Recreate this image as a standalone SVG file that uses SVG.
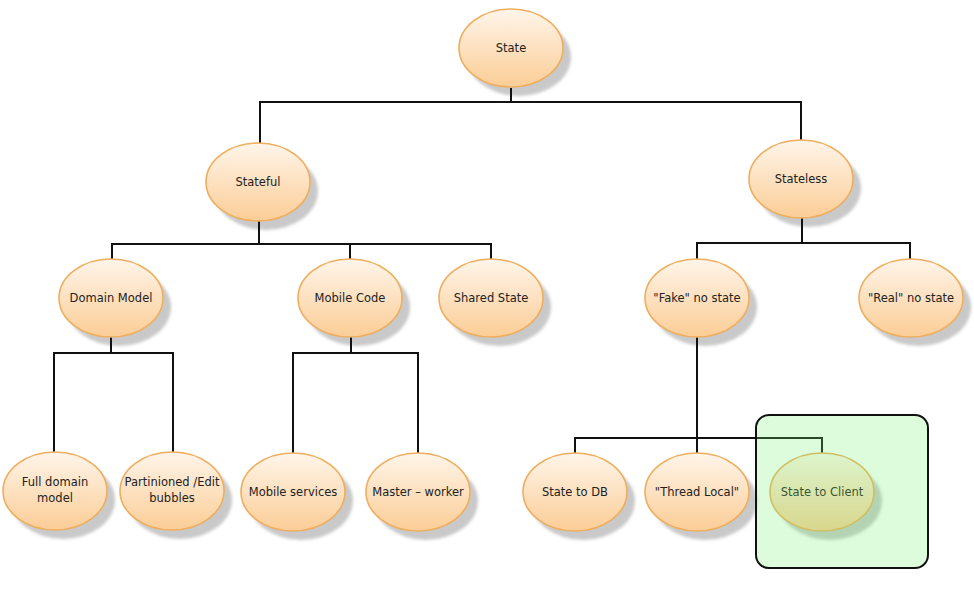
<svg xmlns="http://www.w3.org/2000/svg" width="974" height="594" viewBox="0 0 974 594">
<defs>
<linearGradient id="g" x1="0" y1="0" x2="0" y2="1">
<stop offset="0" stop-color="#fff5ea"/>
<stop offset="1" stop-color="#fbcd96"/>
</linearGradient>
<filter id="blur" x="-20%" y="-20%" width="140%" height="140%"><feGaussianBlur stdDeviation="1.5"/></filter>
<style>
.sh{fill:#c9c9c9;filter:url(#blur)}
.el{fill:url(#g);stroke:#eeae5e;stroke-width:1.6}
.t{font-family:"DejaVu Sans",sans-serif;font-size:11.5px;fill:#222;text-anchor:middle}
.c{fill:none;stroke:#111;stroke-width:2}
</style>
</defs>
<rect width="974" height="594" fill="#fff"/>
<g id="shadows">
<ellipse class="sh" cx="519" cy="57" rx="52" ry="39"/>
<ellipse class="sh" cx="266" cy="191" rx="52" ry="39"/>
<ellipse class="sh" cx="809" cy="188" rx="52" ry="39"/>
<ellipse class="sh" cx="119" cy="307" rx="52" ry="39"/>
<ellipse class="sh" cx="358" cy="307" rx="52" ry="39"/>
<ellipse class="sh" cx="499" cy="307" rx="52" ry="39"/>
<ellipse class="sh" cx="705" cy="307" rx="52" ry="39"/>
<ellipse class="sh" cx="919" cy="307" rx="52" ry="39"/>
<ellipse class="sh" cx="63" cy="500" rx="52" ry="39"/>
<ellipse class="sh" cx="180" cy="500" rx="52" ry="39"/>
<ellipse class="sh" cx="301" cy="501" rx="52" ry="39"/>
<ellipse class="sh" cx="426" cy="501" rx="52" ry="39"/>
<ellipse class="sh" cx="583" cy="501" rx="52" ry="39"/>
<ellipse class="sh" cx="705" cy="501" rx="52" ry="39"/>
<ellipse class="sh" cx="830" cy="501" rx="52" ry="39"/>
</g>
<g id="connectors">
<path class="c" d="M511 88 V102 M260 143 V102 H801 V140"/>
<path class="c" d="M259 221 V244 M112 259 V244 H491 V259 M350 244 V259"/>
<path class="c" d="M802 218 V243 M697 259 V243 H910 V259"/>
<path class="c" d="M111 337 V353 M54 452 V353 H173 V452"/>
<path class="c" d="M351 337 V353 M293 453 V353 H418 V453"/>
<path class="c" d="M697 337 V453 M575 453 V438 H822 V453"/>
</g>
<g id="state"><ellipse class="el" cx="511" cy="48" rx="52" ry="39"/><text class="t" x="511" y="52">State</text></g>
<g id="stateful"><ellipse class="el" cx="258" cy="182" rx="52" ry="39"/><text class="t" x="258" y="186">Stateful</text></g>
<g id="stateless"><ellipse class="el" cx="801" cy="179" rx="52" ry="39"/><text class="t" x="801" y="183">Stateless</text></g>
<g id="domain-model"><ellipse class="el" cx="111" cy="298" rx="52" ry="39"/><text class="t" x="111" y="302">Domain Model</text></g>
<g id="mobile-code"><ellipse class="el" cx="350" cy="298" rx="52" ry="39"/><text class="t" x="350" y="302">Mobile Code</text></g>
<g id="shared-state"><ellipse class="el" cx="491" cy="298" rx="52" ry="39"/><text class="t" x="491" y="302">Shared State</text></g>
<g id="fake-no-state"><ellipse class="el" cx="697" cy="298" rx="52" ry="39"/><text class="t" x="697" y="302">"Fake" no state</text></g>
<g id="real-no-state"><ellipse class="el" cx="911" cy="298" rx="52" ry="39"/><text class="t" x="911" y="302">"Real" no state</text></g>
<g id="full-domain-model"><ellipse class="el" cx="55" cy="491" rx="52" ry="39"/><text class="t" x="55" y="486">Full domain</text><text class="t" x="55" y="502">model</text></g>
<g id="partitioned"><ellipse class="el" cx="172" cy="491" rx="52" ry="39"/><text class="t" x="172" y="486">Partinioned /Edit</text><text class="t" x="172" y="502">bubbles</text></g>
<g id="mobile-services"><ellipse class="el" cx="293" cy="492" rx="52" ry="39"/><text class="t" x="293" y="496">Mobile services</text></g>
<g id="master-worker"><ellipse class="el" cx="418" cy="492" rx="52" ry="39"/><text class="t" x="418" y="496">Master – worker</text></g>
<g id="state-to-db"><ellipse class="el" cx="575" cy="492" rx="52" ry="39"/><text class="t" x="575" y="496">State to DB</text></g>
<g id="thread-local"><ellipse class="el" cx="697" cy="492" rx="52" ry="39"/><text class="t" x="697" y="496">"Thread Local"</text></g>
<g id="state-to-client"><ellipse class="el" cx="822" cy="492" rx="52" ry="39"/><text class="t" x="822" y="496">State to Client</text></g>
<g id="highlight"><rect x="756" y="415" width="172" height="153" rx="13" fill="#73f373" fill-opacity="0.25" stroke="#111" stroke-width="2"/></g>
</svg>
